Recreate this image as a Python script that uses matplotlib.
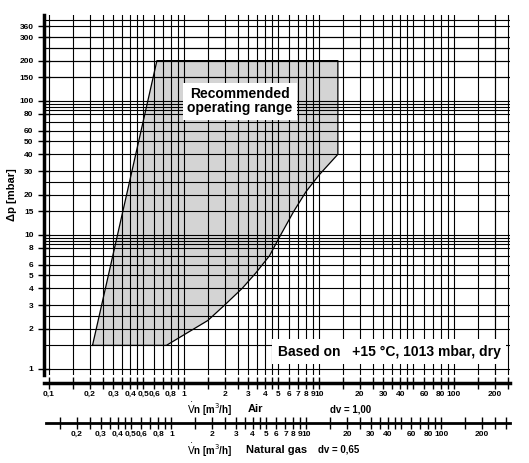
import numpy as np
import matplotlib
matplotlib.use("Agg")
import matplotlib.pyplot as plt

# data
region_x = [0.21, 0.63, 13.8, 13.8, 10, 8, 6.5, 5.2, 4.3, 3.4, 2.7, 2.0, 1.5, 1.0, 0.74, 0.21]
region_y = [1.5, 200, 200, 40, 28, 21, 15, 10, 7, 5.2, 4.0, 3.0, 2.3, 1.8, 1.5, 1.5]
y_labels = [1, 2, 3, 4, 5, 6, 8, 10, 15, 20, 30, 40, 50, 60, 80, 100, 150, 200, 300, 360]
air_labels = [0.1, 0.2, 0.3, 0.4, 0.5, 0.6, 0.8, 1, 2, 3, 4, 5, 6, 7, 8, 9, 10, 20, 30, 40, 60, 80, 100, 200]
gas_labels = [0.2, 0.3, 0.4, 0.5, 0.6, 0.8, 1, 2, 3, 4, 5, 6, 7, 8, 9, 10, 20, 30, 40, 60, 80, 100, 200]
dv_gas = 0.65

plt.rcParams['font.family'] = ['Liberation Sans', 'DejaVu Sans']
W, H = 529, 463
fig = plt.figure(figsize=(W/100, H/100), dpi=100)
xlim = (0.0918, 260)
ylim = (0.902, 438)
ax = fig.add_axes([44/W, 1-375/H, (510-44)/W, (375-15)/H])
ax.set_xscale('log'); ax.set_yscale('log')
ax.set_xlim(*xlim); ax.set_ylim(*ylim)

ax.fill(region_x, region_y, color='#d4d4d4', zorder=1, lw=0)

xg_m = [1, 1.5, 2, 2.5, 3, 3.5, 4, 4.5, 5, 6, 7, 8, 9]
yg_m = [1, 1.5, 2, 2.5, 3, 4, 5, 6, 7, 8, 8.5, 9, 9.5]
for d in [0.1, 1, 10, 100]:
    for m in xg_m:
        v = d*m
        if xlim[0] < v < xlim[1]:
            ax.axvline(v, color='black', lw=0.8, zorder=2)
ax.axvline(200, color='black', lw=0.8, zorder=2)
for d in [1, 10, 100]:
    for m in yg_m:
        v = d*m
        if ylim[0] < v < ylim[1]:
            ax.axhline(v, color='black', lw=0.8, zorder=2)
for v in [150, 200, 250, 300, 360]:
    ax.axhline(v, color='black', lw=0.8, zorder=2)

ax.plot(region_x, region_y, color='black', lw=0.9, zorder=3)

ax.text(0.42, 0.76, "Recommended\noperating range", transform=ax.transAxes,
        fontsize=10, fontweight='bold', ha='center', va='center', linespacing=1.0,
        bbox=dict(facecolor='white', edgecolor='none', pad=3), zorder=5)
ax.text(0.98, 0.045, "Based on   +15 °C, 1013 mbar, dry", transform=ax.transAxes,
        fontsize=10, fontweight='bold', ha='right', va='bottom',
        bbox=dict(facecolor='white', edgecolor='none', pad=4), zorder=5)

for s in ['top', 'right', 'bottom']:
    ax.spines[s].set_visible(False)
ax.spines['left'].set_linewidth(2.5)
ax.set_yticks(y_labels)
ax.set_yticklabels([str(v) for v in y_labels], fontsize=6, fontweight='bold')
ax.yaxis.set_minor_locator(matplotlib.ticker.NullLocator())
ax.tick_params(axis='y', direction='inout', length=8, width=1)
ax.set_xticks([])
ax.xaxis.set_minor_locator(matplotlib.ticker.NullLocator())
ax.set_ylabel("Δp [mbar]", fontsize=8, fontweight='bold', labelpad=2)

def fmt(v):
    return (("%g" % v).replace('.', ','))

def minor_ticks(lo, hi):
    out = []
    for d in [0.01, 0.1, 1, 10, 100, 1000]:
        for m in [1, 1.5, 2, 2.5, 3, 3.5, 4, 4.5, 5, 6, 7, 8, 9]:
            v = d*m
            if lo < v < hi:
                out.append(v)
    return out

# air axis
axa = fig.add_axes([44/W, 1-383/H, (510-44)/W, 0.0001])
axa.set_xscale('log'); axa.set_xlim(*xlim)
for s in ['top', 'right', 'left']:
    axa.spines[s].set_visible(False)
axa.spines['bottom'].set_linewidth(2.5)
axa.set_yticks([])
axa.set_xticks(air_labels)
axa.set_xticklabels([fmt(v) for v in air_labels], fontsize=6, fontweight='bold')
axa.set_xticks(minor_ticks(*xlim), minor=True)
axa.tick_params(axis='x', which='both', direction='inout', length=8, width=1, pad=2)
axa.tick_params(axis='x', which='minor', labelbottom=False)
fig.text(210/W, 1-409/H, r"$\dot{\mathrm{V}}$n [m$^3$/h]", fontsize=7, fontweight='bold', ha='center', va='center')
fig.text(248/W, 1-409/H, "Air", fontsize=8, fontweight='bold', ha='left', va='center')
fig.text(330/W, 1-409/H, "dv = 1,00", fontsize=7, fontweight='bold', ha='left', va='center')

# gas axis
k = 1/np.sqrt(dv_gas)
axg = fig.add_axes([46/W, 1-423/H, (510-46)/W, 0.0001])
axg.set_xscale('log')
glo = 10**(np.log10(xlim[0]) + (46-44)/135)
axg.set_xlim(glo*k, xlim[1]*k)
for s in ['top', 'right', 'left']:
    axg.spines[s].set_visible(False)
axg.spines['bottom'].set_linewidth(2.0)
axg.set_yticks([])
axg.set_xticks(gas_labels)
axg.set_xticklabels([fmt(v) for v in gas_labels], fontsize=6, fontweight='bold')
axg.set_xticks(minor_ticks(glo*k, xlim[1]*k), minor=True)
axg.tick_params(axis='x', which='both', direction='inout', length=8, width=1, pad=2)
axg.tick_params(axis='x', which='minor', labelbottom=False)
fig.text(210/W, 1-450/H, r"$\dot{\mathrm{V}}$n [m$^3$/h]", fontsize=7, fontweight='bold', ha='center', va='center')
fig.text(246/W, 1-450/H, "Natural gas", fontsize=8, fontweight='bold', ha='left', va='center')
fig.text(318/W, 1-450/H, "dv = 0,65", fontsize=7, fontweight='bold', ha='left', va='center')

fig.savefig("out.png", dpi=100, facecolor='white')
